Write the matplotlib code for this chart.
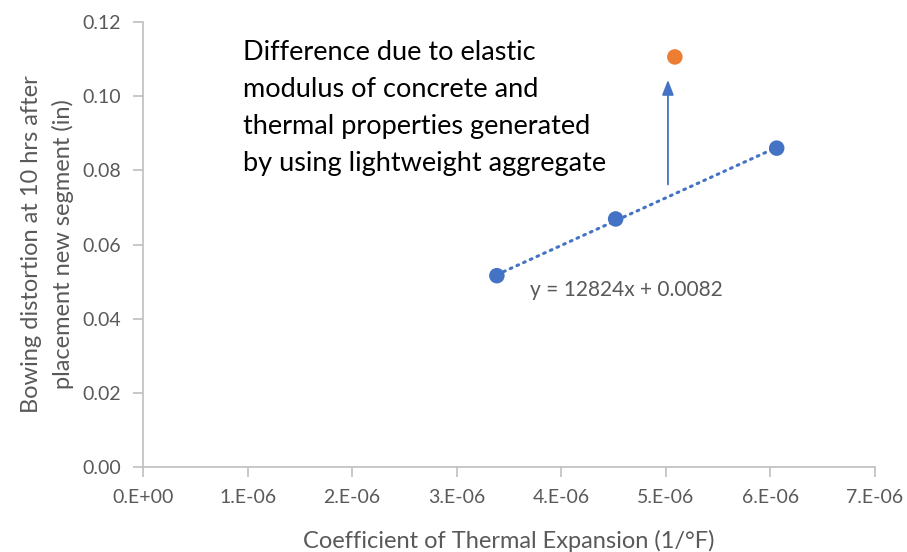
import numpy as np
import matplotlib.pyplot as plt

# data
cte_normal = [3.384e-6, 4.52e-6, 6.06e-6]
bow_normal = [0.0516, 0.0669, 0.0860]
cte_light = [5.086e-6]
bow_light = [0.1106]
arrow_x = 5.02e-6
arrow_from = 0.0762
arrow_to = 0.1044

x_ticks = np.arange(0, 7.01e-6, 1e-6)
x_labels = ['0.E+00', '1.E-06', '2.E-06', '3.E-06', '4.E-06', '5.E-06', '6.E-06', '7.E-06']
y_ticks = np.arange(0, 0.121, 0.02)

BLUE = '#4472C4'
ORANGE = '#ED7D31'
GREY = '#595959'
AXIS = '#BFBFBF'

plt.rcParams['font.family'] = ['Lato', 'DejaVu Sans']

fig = plt.figure(figsize=(9.07, 5.52), dpi=100)
ax = fig.add_axes([0.1577, 0.154, 0.807, 0.806])

# linear trend over the blue points
k, b = np.polyfit(cte_normal, bow_normal, 1)
xt = np.array([min(cte_normal), max(cte_normal)])
ax.plot(xt, k * xt + b, color=BLUE, lw=2.2, ls=(0, (0.6, 1.8)), dash_capstyle='round', zorder=2)

ax.scatter(cte_normal, bow_normal, s=125, color=BLUE, zorder=3, edgecolors='none')
ax.scatter(cte_light, bow_light, s=125, color=ORANGE, zorder=3, edgecolors='none')

ax.annotate('', xy=(arrow_x, arrow_to), xytext=(arrow_x, arrow_from),
            arrowprops=dict(arrowstyle='-|>,head_width=0.35,head_length=0.9',
                            color=BLUE, lw=1.3, shrinkA=0, shrinkB=0))

ax.text(0.96e-6, 0.1152, 'Difference due to elastic\nmodulus of concrete and\nthermal properties generated\nby using lightweight aggregate',
        fontsize=19.5, color='black', va='top', ha='left', linespacing=1.6)
ax.text(3.70e-6, 0.0478, 'y = 12824x + 0.0082', fontsize=15, color=GREY, va='center', ha='left')

ax.set_xlim(0, 7e-6)
ax.set_ylim(0, 0.12)
ax.set_xticks(x_ticks)
ax.set_xticklabels(x_labels)
ax.set_yticks(y_ticks)
ax.set_yticklabels([f'{v:.2f}' for v in y_ticks])

for s in ['top', 'right']:
    ax.spines[s].set_visible(False)
for s in ['left', 'bottom']:
    ax.spines[s].set_color(AXIS)
    ax.spines[s].set_linewidth(1.2)
ax.tick_params(axis='both', direction='out', length=7, width=1.2, color=AXIS,
               labelcolor=GREY, labelsize=14)
ax.tick_params(axis='x', pad=9)
ax.tick_params(axis='y', pad=9)

ax.set_xlabel('Coefficient of Thermal Expansion (1/°F)', fontsize=17, color=GREY, labelpad=17)
ax.set_ylabel('Bowing distortion at 10 hrs after\nplacement new segment (in)', fontsize=17,
              color=GREY, labelpad=6, linespacing=1.55)

fig.savefig('out.png', dpi=100)
